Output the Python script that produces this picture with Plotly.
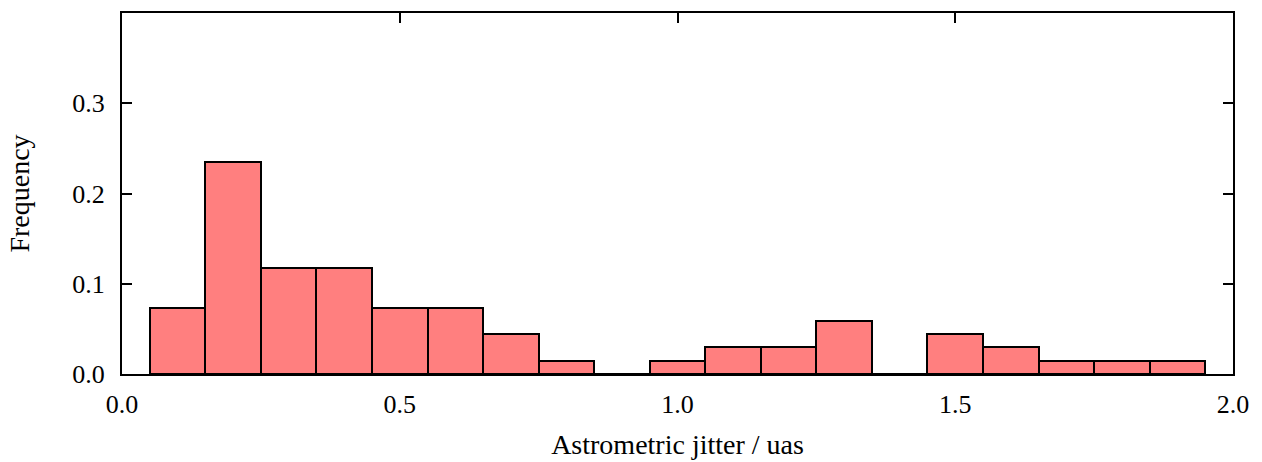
import plotly.graph_objects as go

bin_centers = [0.1, 0.2, 0.3, 0.4, 0.5, 0.6, 0.7, 0.8, 0.9, 1.0,
               1.1, 1.2, 1.3, 1.4, 1.5, 1.6, 1.7, 1.8, 1.9]
frequency = [0.0735, 0.2353, 0.1176, 0.1176, 0.0735, 0.0735, 0.0441, 0.0147, 0.0,
             0.0147, 0.0294, 0.0294, 0.0588, 0.0, 0.0441, 0.0294, 0.0147, 0.0147, 0.0147]
x_ticks = [0.0, 0.5, 1.0, 1.5, 2.0]
y_ticks = [0.0, 0.1, 0.2, 0.3]

fig = go.Figure()
fig.add_trace(go.Bar(
    x=bin_centers, y=frequency, width=0.1,
    marker=dict(color="#FF7F7F", line=dict(color="black", width=2)),
))

family = "Liberation Serif, Times New Roman, serif"
fig.update_layout(
    width=1262, height=462,
    margin=dict(l=122, r=29, t=13, b=88),
    paper_bgcolor="white", plot_bgcolor="white",
    showlegend=False, bargap=0,
    font=dict(family=family, size=26, color="black"),
)
fig.update_xaxes(
    range=[0, 2.0], tickvals=x_ticks, ticktext=[f"{v:.1f}" for v in x_ticks],
    tickfont=dict(family=family, size=26, color="black"),
    ticks="inside", ticklen=10, tickwidth=2, tickcolor="black",
    showline=True, linecolor="black", linewidth=2, mirror="ticks",
    showgrid=False, zeroline=False, layer="below traces", automargin=False,
    ticklabelstandoff=6,
    title=dict(text="Astrometric jitter / uas", standoff=16,
               font=dict(family=family, size=28, color="black")),
)
fig.update_yaxes(
    range=[0, 0.4], tickvals=y_ticks, ticktext=[f"{v:.1f}" for v in y_ticks],
    tickfont=dict(family=family, size=26, color="black"),
    ticks="inside", ticklen=10, tickwidth=2, tickcolor="black",
    showline=True, linecolor="black", linewidth=2, mirror="ticks",
    showgrid=False, zeroline=False, layer="below traces", automargin=False,
    ticklabelstandoff=10,
    title=dict(text="Frequency", standoff=34,
               font=dict(family=family, size=28, color="black")),
)
fig.write_html("out.html")
